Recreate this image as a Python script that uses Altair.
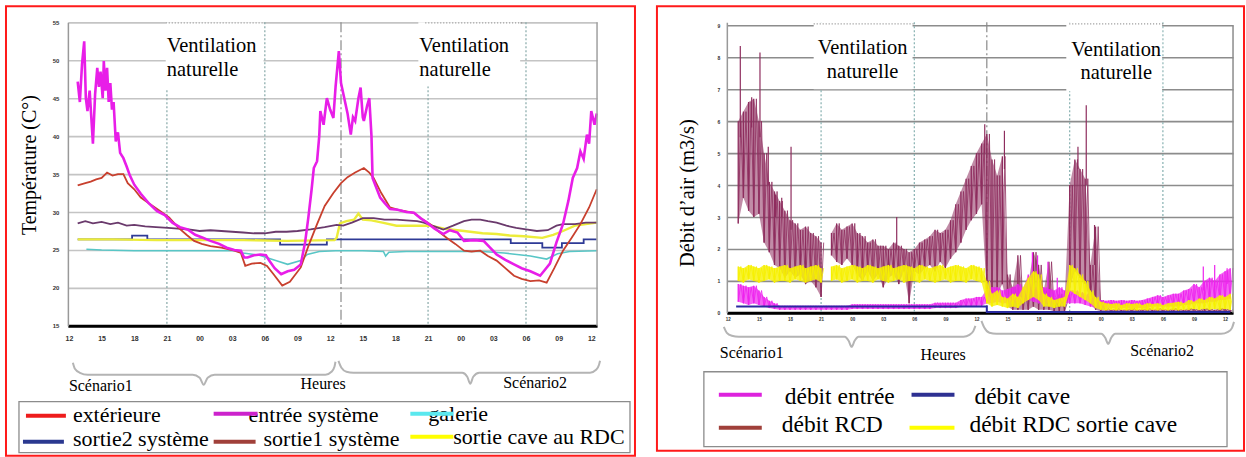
import json
import altair as alt
import pandas as pd

# ---------------- shared axis data ----------------
tick_hours = [0, 3, 6, 9, 12, 15, 18, 21, 24, 27, 30, 33, 36, 39, 42, 45, 48]
tick_labels = ["12", "15", "18", "21", "00", "03", "06", "09", "12",
               "15", "18", "21", "00", "03", "06", "09", "12"]
vent_bounds = [9, 18, 33, 42]
scenario_split = [25]
temp_ticks = [15, 20, 25, 30, 35, 40, 45, 50, 55]
flow_ticks = [0, 1, 2, 3, 4, 5, 6, 7, 8, 9]

# ---------------- left chart: temperatures (hours after 12:00, °C) ----------------
exterieure = [(0.8,33.5),(1.5,33.8),(2.0,34.0),(2.5,34.3),(3.0,34.5),(3.5,35.2),(4.0,34.8),(4.5,35.0),
              (5.0,35.0),(5.4,33.8),(6.0,33.0),(6.6,31.9),(7.5,31.0),(8.4,30.1),(9.2,29.3),(10.0,28.0),
              (10.8,27.0),(11.5,26.2),(12.2,25.8),(13.0,25.5),(14.0,25.3),(15.2,24.9),(15.8,24.6),
              (16.2,22.9),(16.8,23.2),(17.6,23.3),(18.2,22.9),(18.8,21.8),(19.6,20.3),(20.3,20.8),
              (21.3,22.7),(22.0,25.5),(22.8,28.4),(23.5,30.8),(24.3,32.5),(25.0,33.8),(25.6,34.6),
              (26.3,35.2),(27.1,35.8),(27.6,35.2),(28.0,34.5),(28.7,32.5),(29.5,30.6),(30.5,30.2),
              (31.7,29.9),(32.5,29.0),(33.2,28.4),(34.0,27.4),(34.7,26.6),(35.5,25.8),(36.3,24.9),
              (37.0,24.8),(37.8,24.9),(38.5,24.2),(39.3,23.6),(40.1,22.6),(40.9,21.6),(41.6,21.2),
              (42.4,20.9),(43.2,21.0),(43.9,20.7),(44.6,22.6),(45.4,24.9),(46.2,26.6),(47.0,28.4),
              (47.8,30.6),(48.5,33.0)]
entree_systeme = [(0.8,47.2),(1.0,44.5),(1.2,49.5),(1.4,52.5),(1.55,45.0),(1.7,43.3),(1.9,46.0),(2.05,42.5),
                  (2.2,39.0),(2.4,45.5),(2.6,49.0),(2.75,46.5),(2.9,48.5),(3.1,45.0),(3.2,49.9),(3.35,46.0),
                  (3.5,49.0),(3.65,44.5),(3.8,47.0),(3.95,43.5),(4.1,44.5),(4.3,39.3),(4.5,40.5),(4.7,37.8),
                  (5.0,37.1),(5.3,36.0),(5.6,34.8),(6.0,33.6),(6.6,32.4),(7.3,31.2),(8.1,30.1),(8.8,29.6),
                  (9.5,28.6),(10.2,28.0),(10.9,27.7),(11.6,27.0),(12.3,26.6),(13.0,26.2),(13.8,25.8),
                  (14.5,25.3),(15.2,25.0),(15.8,24.9),(16.1,24.0),(16.4,24.0),(17.0,24.3),(17.6,24.4),
                  (18.1,24.3),(18.4,23.6),(18.9,22.6),(19.5,21.8),(20.1,22.2),(20.7,22.4),(21.3,23.1),
                  (21.7,26.0),(22.0,29.3),(22.3,33.0),(22.5,35.8),(22.8,36.7),(23.0,40.0),(23.1,43.3),
                  (23.4,41.5),(23.7,45.0),(24.0,43.5),(24.3,42.4),(24.5,46.5),(24.8,51.2),(25.0,47.0),
                  (25.3,45.0),(25.6,43.0),(25.9,40.2),(26.1,42.5),(26.3,42.0),(26.6,45.0),(26.8,46.4),
                  (27.0,42.5),(27.1,42.0),(27.4,44.0),(27.6,45.0),(27.8,40.0),(27.9,34.5),(28.3,33.0),
                  (28.6,31.9),(29.0,31.2),(29.5,30.4),(30.2,30.3),(31.0,30.0),(31.7,29.9),(32.3,29.2),
                  (32.9,28.6),(33.6,27.8),(34.4,27.1),(35.0,27.6),(35.7,27.3),(36.3,26.2),(37.2,26.3),
                  (38.1,26.2),(38.7,25.3),(39.3,24.4),(40.1,23.7),(40.9,23.1),(41.6,22.6),(42.4,22.2),
                  (43.3,21.6),(43.8,22.5),(44.2,23.2),(44.8,26.0),(45.4,28.4),(45.9,31.5),(46.3,34.5),
                  (46.7,35.8),(47.0,38.0),(47.3,37.0),(47.6,40.2),(47.8,39.0),(48.0,43.3),(48.3,41.5),
                  (48.5,43.0)]
sortie1_systeme = [(0.8,28.5),(1.5,28.8),(2.2,28.5),(3.0,28.7),(3.8,28.4),(4.5,28.6),(5.3,28.2),(6.0,28.3),
                   (7.0,28.1),(8.0,28.0),(9.1,27.9),(10.0,27.8),(11.0,27.7),(12.0,27.5),(13.0,27.6),
                   (14.0,27.5),(15.0,27.4),(16.0,27.3),(17.0,27.2),(18.0,27.2),(19.0,27.4),(20.0,27.4),
                   (21.0,27.5),(22.2,27.7),(23.5,28.0),(24.6,28.3),(25.2,28.2),(26.0,28.6),(27.0,29.2),
                   (28.0,29.2),(29.0,29.0),(30.1,29.0),(31.0,28.9),(32.0,28.8),(32.6,28.6),(33.4,28.2),
                   (34.4,27.7),(35.3,28.2),(36.3,28.8),(37.0,29.0),(37.8,29.0),(38.5,28.8),(39.3,28.6),
                   (40.2,28.2),(41.1,27.9),(42.0,27.7),(43.0,27.5),(44.0,27.6),(44.8,28.2),(45.4,28.4),
                   (46.5,28.4),(47.5,28.6),(48.5,28.6)]
sortie_cave_rdc = [(0.8,26.4),(4.0,26.4),(8.0,26.3),(12.0,26.3),(16.0,26.3),(20.0,26.2),(24.4,26.3),
                   (24.6,26.6),(24.9,28.5),(25.5,28.8),(26.2,29.0),(26.6,29.8),(27.0,29.0),(27.8,28.9),
                   (28.8,28.6),(30.1,28.2),(31.5,28.2),(33.2,28.2),(34.5,27.8),(36.3,27.5),(38.0,27.2),
                   (39.3,27.1),(40.5,26.9),(41.8,26.8),(43.5,26.6),(44.5,27.0),(45.4,27.5),(46.5,28.2),
                   (47.5,28.4),(48.5,28.6)]
sortie2_systeme = [(0.8,26.4),(5.8,26.9),(7.2,26.4),(19.4,25.7),(23.7,26.4),(40.6,25.9),(43.5,25.3),
                   (45.3,25.9),(47.3,26.4),(48.5,26.4)]
galerie = [(1.6,25.1),(3.0,25.0),(6.0,24.9),(9.0,24.9),(12.0,24.9),(15.3,24.9),(16.0,24.6),(17.5,24.3),
           (19.0,23.6),(20.1,23.1),(21.3,23.6),(21.9,24.4),(23.0,24.8),(24.5,24.9),(27.0,24.9),(28.9,24.8),
           (29.1,24.2),(29.4,24.7),(31.0,24.8),(35.0,24.8),(38.0,24.8),(40.0,24.6),(42.4,24.2),(43.9,23.8),
           (44.9,24.5),(46.0,24.8),(48.5,24.9)]

# ---------------- right chart: air flows (m3/s), low / high envelope every half hour ----------------
grid_h = [1.0 + 0.5 * k for k in range(96)]
rcd_lo = [2.8,3.6,3.2,3.0,3.1,2.2,1.9,1.5,1.4,1.1,
          1.3,1.1,1.2,0.9,1.0,0.8,0.5,None,1.8,1.6,
          1.5,1.7,1.5,1.2,1.0,1.3,1.0,1.2,0.8,1.1,
          1.2,0.9,1.3,0.3,1.3,1.2,1.4,1.5,1.3,1.6,
          1.4,1.7,1.9,2.2,2.6,2.9,3.1,3.4,0.6,0.4,
          0.6,0.9,0.2,0.1,0.1,0.1,0.1,0.2,0.1,0.1,
          0.1,0.05,0.05,0.05,0.8,1.3,1.1,0.9,0.3,0.1,
          0.05,0.03,0.02,0.03,0.02,0.03,0.02,0.03,0.02,0.03,
          0.02,0.03,0.02,0.03,0.02,0.03,0.02,0.03,0.02,0.03,
          0.02,0.03,0.02,0.03,0.02,0.03]
rcd_hi = [6.0,6.3,6.6,6.7,6.0,5.0,4.1,3.8,3.5,3.2,
          2.9,2.8,2.6,2.7,2.5,2.4,2.2,None,2.5,2.8,
          2.6,2.7,2.8,2.5,2.4,2.2,2.3,2.1,2.1,2.0,
          2.2,2.1,2.0,1.9,2.0,2.2,2.3,2.4,2.6,2.5,
          2.6,2.9,3.4,3.8,4.2,4.6,5.0,5.3,5.6,4.8,
          4.3,4.9,1.2,0.8,1.8,0.6,0.9,1.9,1.5,0.7,
          1.6,0.4,0.6,0.3,4.0,4.8,4.5,4.2,1.5,2.7,
          0.4,0.15,0.1,0.15,0.1,0.12,0.15,0.1,0.12,0.15,
          0.1,0.15,0.12,0.1,0.15,0.12,0.1,0.15,0.12,0.1,
          0.15,0.12,0.1,0.15,0.12,0.1]
rcd_peaks = [(1.2,8.35,5.5),(2.3,6.75,5.8),(3.1,8.15,5.5),(3.9,5.2,4.0),(4.6,3.7,3.0),(5.2,3.6,3.0),
             (6.1,5.2,2.6),(16.3,3.0,2.0),(24.8,5.9,5.0),(26.7,5.7,4.5),(33.8,5.2,4.5),(34.6,6.5,4.0),
             (35.4,2.75,1.5)]
rdc_lo = [1.0,0.95,1.05,1.0,0.95,1.0,1.05,0.95,1.0,1.0,
          0.95,1.05,1.0,0.95,1.0,1.05,0.95,None,1.0,1.05,
          0.95,1.0,1.05,0.95,1.0,1.0,0.95,1.05,1.0,0.95,
          1.0,1.05,0.95,1.0,1.0,0.95,1.05,1.0,0.95,1.0,
          1.05,0.95,1.0,1.0,0.95,1.05,1.0,0.95,0.3,0.2,
          0.25,0.2,0.15,0.2,0.15,0.3,0.4,0.5,0.4,0.2,
          0.2,0.15,0.2,0.2,0.7,0.6,0.5,0.4,0.3,0.15,
          0.1,0.08,0.1,0.08,0.1,0.08,0.1,0.08,0.1,0.08,
          0.1,0.08,0.1,0.08,0.1,0.08,0.1,0.1,0.12,0.1,
          0.12,0.1,0.12,0.1,0.12,0.1]
rdc_hi = [1.45,1.4,1.5,1.45,1.4,1.5,1.45,1.4,1.45,1.5,
          1.4,1.45,1.5,1.4,1.45,1.5,1.4,None,1.45,1.5,
          1.4,1.45,1.5,1.45,1.4,1.5,1.45,1.4,1.45,1.5,
          1.4,1.45,1.5,1.45,1.4,1.5,1.45,1.4,1.45,1.5,
          1.4,1.45,1.5,1.45,1.4,1.5,1.45,1.4,1.0,0.6,
          0.7,0.5,0.45,0.6,0.5,0.8,1.1,1.3,1.2,0.6,
          0.5,0.4,0.45,0.5,1.5,1.4,1.2,1.0,0.7,0.5,
          0.35,0.3,0.28,0.3,0.25,0.3,0.28,0.3,0.25,0.3,
          0.28,0.3,0.25,0.3,0.32,0.35,0.3,0.4,0.35,0.45,
          0.4,0.5,0.45,0.55,0.5,0.6]
entree_lo = [0.35,0.3,0.25,0.3,0.25,0.2,0.15,0.12,0.1,0.1,
             0.1,0.1,0.1,0.1,0.1,0.1,0.1,0.1,0.1,0.1,
             0.1,0.1,0.12,0.12,0.12,0.12,0.12,0.12,0.12,0.12,
             0.12,0.12,0.12,0.12,0.12,0.12,0.12,0.12,0.15,0.15,
             0.15,0.15,0.15,0.18,0.2,0.2,0.22,0.22,0.3,0.3,
             0.35,0.3,0.3,0.35,0.3,0.35,0.4,0.35,0.3,0.3,
             0.3,0.3,0.3,0.3,0.3,0.3,0.3,0.25,0.2,0.15,
             0.15,0.15,0.15,0.15,0.15,0.15,0.15,0.15,0.15,0.15,
             0.2,0.2,0.2,0.2,0.2,0.2,0.25,0.25,0.3,0.3,
             0.3,0.35,0.35,0.4,0.4,0.45]
entree_hi = [0.9,0.85,0.8,0.85,0.7,0.5,0.38,0.3,0.22,0.22,
             0.22,0.22,0.22,0.22,0.22,0.22,0.22,0.22,0.22,0.22,
             0.22,0.22,0.27,0.27,0.27,0.27,0.27,0.27,0.27,0.27,
             0.27,0.27,0.27,0.27,0.27,0.27,0.27,0.27,0.32,0.32,
             0.32,0.32,0.32,0.4,0.45,0.45,0.5,0.5,0.75,0.8,
             0.8,0.7,0.75,0.8,0.9,0.75,1.2,0.8,0.7,0.8,
             0.75,0.7,0.8,0.7,0.7,0.7,0.65,0.6,0.5,0.4,
             0.4,0.38,0.4,0.38,0.4,0.38,0.4,0.38,0.4,0.45,
             0.5,0.55,0.5,0.55,0.6,0.6,0.7,0.75,0.9,0.8,
             1.0,1.1,1.0,1.2,1.3,1.4]
entree_peaks = [(29.4,1.9,0.6),(29.9,1.8,0.6),(30.9,1.6,0.6),(31.8,1.1,0.5),(45.9,1.45,0.7),
                (47.0,1.5,0.8),(48.2,1.4,0.9)]
cave_flow = [(0.8,0.2),(25.0,0.2),(25.0,0.03),(48.5,0.03)]

# ---------------- styling ----------------
SERIF = "Liberation Serif"
SANS = "Liberation Sans"
ONE = pd.DataFrame({"k": [0]})
label_expr = f"{json.dumps(tick_labels)}[round(datum.value / 3)]"

WL, HL = 530, 304   # left plot area
WR, HR = 507, 291   # right plot area
OXL, OYL = 67, 21   # left plot origin in page
OXR, OYR = 725, 21  # right plot origin in page


def xaxis(size, pad):
    return alt.Axis(values=tick_hours, labelExpr=label_expr, labelFont=SANS, labelFontSize=size,
                    labelFontWeight="bold", labelColor="#333333", labelPadding=pad, ticks=False,
                    domainColor="#000000", domainWidth=3, grid=False, title=None,
                    labelOverlap=False, labelFlush=False)


def yaxis(values, size, pad, gcol):
    return alt.Axis(values=values, labelFont=SANS, labelFontSize=size, labelFontWeight="bold",
                    labelColor="#333333", labelPadding=pad, ticks=False, domainColor="#999999",
                    domainWidth=1.5, gridColor=gcol, gridWidth=1.6, title=None, labelOverlap=False)


XSL = alt.Scale(domain=[-0.1, 48.53], nice=False, zero=False)
YSL = alt.Scale(domain=[15, 55], nice=False, zero=False)
XSR = alt.Scale(domain=[-0.1, 48.77], nice=False, zero=False)
YSR = alt.Scale(domain=[0, 9.094], nice=False, zero=False)
XL = alt.X("h:Q", scale=XSL, axis=xaxis(7, 9))
YL = alt.Y("v:Q", scale=YSL, axis=yaxis(temp_ticks, 6, 9, "#c4c4c4"))
XR = alt.X("h:Q", scale=XSR, axis=xaxis(4.5, 4))
YR = alt.Y("v:Q", scale=YSR, axis=yaxis(flow_ticks, 5, 7, "#8c8c8c"))
YR_LO = alt.Y("lo:Q", scale=YSR, axis=yaxis(flow_ticks, 5, 7, "#8c8c8c"))


def pairs_df(pairs):
    return pd.DataFrame(pairs, columns=["h", "v"]).assign(i=range(len(pairs)))


def line(pairs, X, Y, color, width, interp="linear"):
    return alt.Chart(pairs_df(pairs)).mark_line(color=color, strokeWidth=width, interpolate=interp).encode(
        x=X, y=Y, order="i:Q")


def band(lo, hi, X, color, opacity, width):
    rows, zz, seg = [], [], 0
    for h, a, b in zip(grid_h, lo, hi):
        if a is None:
            seg += 1
            continue
        rows.append({"h": h, "lo": a, "hi": b, "seg": seg})
        zz.append({"h": h, "v": a, "seg": seg, "i": len(zz)})
        zz.append({"h": h + 0.25, "v": b, "seg": seg, "i": len(zz)})
    df = pd.DataFrame(rows)
    area = alt.Chart(df).mark_area(color=color, opacity=opacity).encode(
        x=X, y=YR_LO, y2="hi:Q", detail="seg:N")
    strokes = alt.Chart(df).mark_rule(color=color, strokeWidth=1.3).encode(x=X, y=YR_LO, y2="hi:Q")
    trace = alt.Chart(pd.DataFrame(zz)).mark_line(color=color, strokeWidth=width).encode(
        x=X, y=YR, detail="seg:N", order="i:Q")
    return [area, strokes, trace]


def peaks(trip, X, Y, color):
    df = pd.DataFrame(trip, columns=["h", "v", "b"])
    return alt.Chart(df).mark_rule(color=color, strokeWidth=1.2).encode(x=X, y=Y, y2="b:Q")


def vlines(hours, X, H, color, dash, width=1.2):
    return alt.Chart(pd.DataFrame({"h": hours})).mark_rule(color=color, strokeDash=dash, strokeWidth=width).encode(
        x=X, y=alt.value(0), y2=alt.value(H))


def txt(s, x, y, size, align="left", angle=0, baseline="alphabetic", font=SERIF):
    return alt.Chart(ONE).mark_text(text=s, align=align, baseline=baseline, fontSize=size, font=font,
                                    angle=angle, color="black").encode(x=alt.value(x), y=alt.value(y))


def rect(x1, y1, x2, y2, fill="white", stroke="transparent", sw=0):
    return alt.Chart(ONE).mark_rect(fill=fill, stroke=stroke, strokeWidth=sw).encode(
        x=alt.value(x1), x2=alt.value(x2), y=alt.value(y1), y2=alt.value(y2))


def hrule(x1, x2, y, color, width, dash=None):
    kw = dict(color=color, strokeWidth=width)
    if dash:
        kw["strokeDash"] = dash
    return alt.Chart(ONE).mark_rule(**kw).encode(x=alt.value(x1), x2=alt.value(x2), y=alt.value(y))


def vrule(x, y1, y2, color, width):
    return alt.Chart(ONE).mark_rule(color=color, strokeWidth=width).encode(
        x=alt.value(x), y=alt.value(y1), y2=alt.value(y2))


def brace(points, ox, oy):
    df = pd.DataFrame([{"px": x - ox, "py": y - oy, "i": i} for i, (x, y) in enumerate(points)])
    return alt.Chart(df).mark_line(color="#b4b4b4", strokeWidth=2, interpolate="monotone").encode(
        x=alt.X("px:Q", scale=None), y=alt.Y("py:Q", scale=None), order="i:Q")


# ---------------- left panel ----------------
ox, oy = OXL, OYL
left_layers = [
    vlines(vent_bounds, XL, HL, "#86a8a8", [2, 2]),
    vlines(scenario_split, XL, HL, "#8a8a8a", [10, 3, 2, 3]),
    line(galerie, XL, YL, "#58c6c6", 1.6),
    line(sortie2_systeme, XL, YL, "#2e3a96", 1.8, "step-after"),
    line(sortie_cave_rdc, XL, YL, "#ecec3a", 2.4),
    line(sortie1_systeme, XL, YL, "#6a3a6c", 1.8),
    line(exterieure, XL, YL, "#c8402e", 1.8),
    line(entree_systeme, XL, YL, "#e81ee8", 2.6),
    vrule(WL, 0, HL, "#a0a0a0", 1.5),
    rect(165 - ox, 0, 263 - ox, 88 - oy),
    rect(418 - ox, 0, 520 - ox, 85 - oy),
    hrule(165 - ox, 264 - ox, 0.5, "#8a8a8a", 1.2, [1, 2]),
    hrule(425 - ox, 523 - ox, 0.5, "#8a8a8a", 1.2, [1, 2]),
    txt("Ventilation", 166 - ox, 51 - oy, 20.5),
    txt("naturelle", 166 - ox, 75 - oy, 20.5),
    txt("Ventilation", 419 - ox, 51 - oy, 20.5),
    txt("naturelle", 419 - ox, 75 - oy, 20.5),
    txt("Température (C°)", 29 - ox, 164 - oy, 20, align="center", angle=270, baseline="middle"),
    brace([(72,362),(74,368),(79,372),(87,374),(192,374),(199,377),(203,384),(207,377),(214,374),
           (325,374),(331,371),(334,366),(335,361)], ox, oy),
    brace([(338,360),(341,367),(346,371),(353,372),(462,372),(467,376),(470,383),(473,376),(479,372),
           (590,372),(596,369),(599,364),(600,360)], ox, oy),
    txt("Scénario1", 68 - ox, 390 - oy, 16),
    txt("Heures", 300 - ox, 388 - oy, 16),
    txt("Scénario2", 503 - ox, 387 - oy, 16),
    rect(18 - ox, 401 - oy, 630 - ox, 452 - oy, fill="white", stroke="#8c8c8c", sw=1.3),
    txt("extérieure", 72 - ox, 421 - oy, 22),
    txt("entrée système", 248 - ox, 421 - oy, 22),
    txt("galerie", 428 - ox, 420 - oy, 22),
    txt("sortie2 système", 72 - ox, 445 - oy, 22),
    txt("sortie1 système", 263 - ox, 445 - oy, 22),
    txt("sortie cave au RDC", 453 - ox, 443 - oy, 22),
    hrule(25 - ox, 65 - ox, 415 - oy, "#ee1c1c", 4),
    hrule(213 - ox, 257 - ox, 413 - oy, "#cc22cc", 4),
    hrule(410 - ox, 453 - ox, 413 - oy, "#5ae8ee", 4),
    hrule(22 - ox, 63 - ox, 441 - oy, "#2b3990", 4),
    hrule(213 - ox, 255 - ox, 441 - oy, "#a0403a", 4),
    hrule(410 - ox, 453 - ox, 436 - oy, "#ffff00", 4),
    rect(5 - ox, 5 - oy, 635 - ox, 455 - oy, fill="transparent", stroke="#ff1a1a", sw=2),
]
left = alt.layer(*left_layers).properties(width=WL, height=HL)

# ---------------- right panel ----------------
ox, oy = OXR, OYR
right_layers = [
    vlines(vent_bounds, XR, HR, "#86b0b0", [2, 2]),
    vlines(scenario_split, XR, HR, "#8a8a8a", [10, 3, 2, 3]),
    *band(rcd_lo, rcd_hi, XR, "#8e2d5e", 0.55, 0.8),
    peaks(rcd_peaks, XR, YR, "#8e2d5e"),
    *band(entree_lo, entree_hi, XR, "#ee22ee", 0.7, 0.8),
    peaks(entree_peaks, XR, YR, "#ee22ee"),
    *band(rdc_lo, rdc_hi, XR, "#f6f000", 0.8, 0.8),
    line(cave_flow, XR, YR, "#2a2aa0", 2.0),
    vrule(WR, 3, HR, "#8c8c8c", 1.5),
    rect(812 - ox, 0, 911 - ox, 88 - oy),
    rect(1065 - ox, 0, 1161 - ox, 90 - oy),
    hrule(812 - ox, 912 - ox, 1.5, "#8a8a8a", 1.2, [1, 2]),
    hrule(1068 - ox, 1163 - ox, 1.5, "#8a8a8a", 1.2, [1, 2]),
    txt("Ventilation", 861 - ox, 53 - oy, 20.5, align="center"),
    txt("naturelle", 861 - ox, 77 - oy, 20.5, align="center"),
    txt("Ventilation", 1115 - ox, 55 - oy, 20.5, align="center"),
    txt("naturelle", 1115 - ox, 78 - oy, 20.5, align="center"),
    txt("Débit d’air (m3/s)", 686 - ox, 192 - oy, 20.5, align="center", angle=270, baseline="middle"),
    brace([(722,326),(725,332),(730,335),(737,336),(843,336),(847,340),(850,346),(853,340),(857,336),
           (962,336),(968,334),(972,330),(974,325)], ox, oy),
    brace([(980,320),(983,327),(988,332),(995,333),(1100,333),(1104,337),(1107,343),(1110,337),(1114,333),
           (1220,333),(1227,331),(1231,327),(1233,321)], ox, oy),
    txt("Scénario1", 718 - ox, 357 - oy, 16),
    txt("Heures", 919 - ox, 359 - oy, 16),
    txt("Scénario2", 1129 - ox, 355 - oy, 16),
    rect(702 - ox, 371 - oy, 1226 - ox, 446 - oy, fill="white", stroke="#8c8c8c", sw=1.3),
    txt("débit entrée", 783 - ox, 403 - oy, 23.5),
    txt("débit cave", 973 - ox, 403 - oy, 23.5),
    txt("débit RCD", 780 - ox, 431 - oy, 23.5),
    txt("débit RDC sortie cave", 968 - ox, 431 - oy, 23.5),
    hrule(717 - ox, 760 - ox, 394 - oy, "#dd22dd", 4),
    hrule(910 - ox, 953 - ox, 394 - oy, "#2e3192", 4),
    hrule(717 - ox, 760 - ox, 427 - oy, "#a0403a", 4),
    hrule(908 - ox, 953 - ox, 427 - oy, "#ffff00", 4),
    rect(655 - ox, 5 - oy, 1243 - ox, 450 - oy, fill="transparent", stroke="#ff1a1a", sw=2),
]
right = alt.layer(*right_layers).properties(width=WR, height=HR)

chart = alt.hconcat(left, right, spacing=18).properties(
    padding={"left": 4, "top": 4, "right": 0, "bottom": 0},
    background="white",
).configure_view(stroke="transparent")

chart.save("out.html", embed_options={"renderer": "svg", "actions": False})
